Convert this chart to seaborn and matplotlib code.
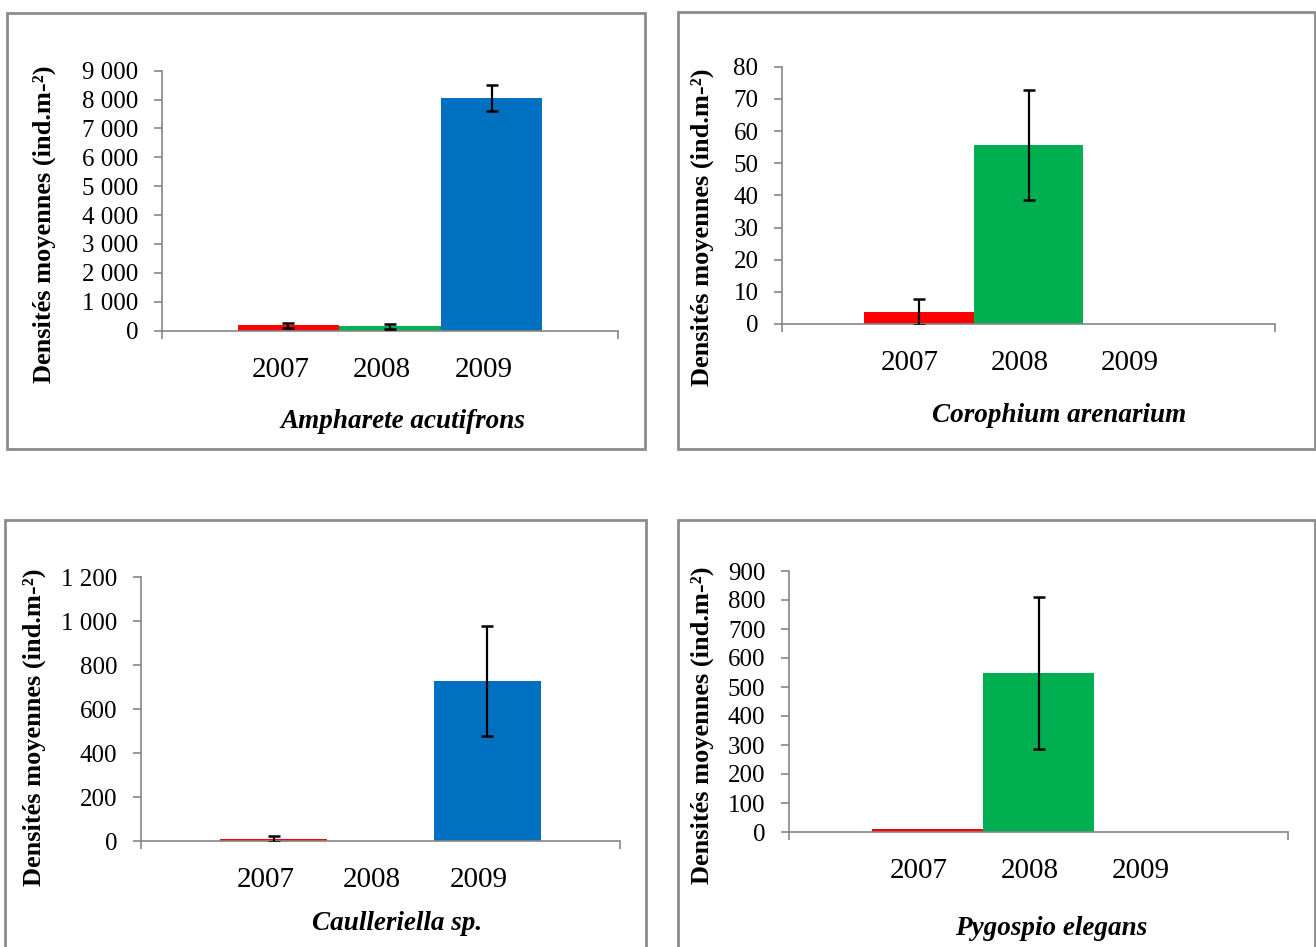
import numpy as np
import pandas as pd
import matplotlib
matplotlib.use("Agg")
import matplotlib.pyplot as plt
from matplotlib.patches import Rectangle
import seaborn as sns

# ---------------- data ----------------
years = ["2007", "2008", "2009"]
colors = ["#FF0000", "#00B050", "#0070C0"]

species = ["Ampharete acutifrons", "Corophium arenarium", "Caulleriella sp.", "Pygospio elegans"]

ampharete_mean = [175, 140, 8050]
ampharete_err = [80, 75, 460]

corophium_mean = [3.7, 55.7, 0]
corophium_err = [4.0, 17.0, 0]

caulleriella_mean = [11, 0, 729]
caulleriella_err = [14, 0, 250]

pygospio_mean = [10, 548, 0]
pygospio_err = [0, 262, 0]

ampharete_yticks = [0, 1000, 2000, 3000, 4000, 5000, 6000, 7000, 8000, 9000]
ampharete_yticklabels = ["0", "1 000", "2 000", "3 000", "4 000", "5 000", "6 000", "7 000", "8 000", "9 000"]
corophium_yticks = [0, 10, 20, 30, 40, 50, 60, 70, 80]
corophium_yticklabels = ["0", "10", "20", "30", "40", "50", "60", "70", "80"]
caulleriella_yticks = [0, 200, 400, 600, 800, 1000, 1200]
caulleriella_yticklabels = ["0", "200", "400", "600", "800", "1 000", "1 200"]
pygospio_yticks = [0, 100, 200, 300, 400, 500, 600, 700, 800, 900]
pygospio_yticklabels = ["0", "100", "200", "300", "400", "500", "600", "700", "800", "900"]

ylabel_text = "Densités moyennes (ind.m-²)"

# ---------------- layout ----------------
W, H = 1316, 947
sns.set_theme(style="white")
plt.rcParams["font.family"] = ["Liberation Serif", "DejaVu Serif"]

fig = plt.figure(figsize=(W / 100, H / 100), dpi=100)
fig.patch.set_facecolor("white")

GRAY = "#868686"

panels = [
    dict(name=species[0], mean=ampharete_mean, err=ampharete_err,
         yt=ampharete_yticks, ytl=ampharete_yticklabels,
         ax_px=(162, 618, 70.7, 330.5), box=(6.7, 645, 12.7, 449),
         title_px=(403, 421), ylab_px=(44, 224)),
    dict(name=species[1], mean=corophium_mean, err=corophium_err,
         yt=corophium_yticks, ytl=corophium_yticklabels,
         ax_px=(782, 1275, 66.7, 324), box=(678, 1315, 12.5, 449),
         title_px=(1059, 415), ylab_px=(702, 227)),
    dict(name=species[2], mean=caulleriella_mean, err=caulleriella_err,
         yt=caulleriella_yticks, ytl=caulleriella_yticklabels,
         ax_px=(141, 620, 577, 841), box=(5, 646, 520, 960),
         title_px=(397, 923), ylab_px=(34, 727)),
    dict(name=species[3], mean=pygospio_mean, err=pygospio_err,
         yt=pygospio_yticks, ytl=pygospio_yticklabels,
         ax_px=(789, 1288, 571, 832), box=(678, 1315, 520, 960),
         title_px=(1051, 928), ylab_px=(702, 725)),
]

GAP = 0.745

for p in panels:
    l, r, t, b = p["ax_px"]
    ax = fig.add_axes([l / W, 1 - b / H, (r - l) / W, (b - t) / H])
    ax.set_facecolor("white")

    df = pd.DataFrame({"year": years, "mean": p["mean"], "err": p["err"]})
    sns.barplot(data=df, x="year", y="mean", hue="year", palette=colors,
                order=years, hue_order=years, width=1.0, saturation=1,
                legend=False, errorbar=None, linewidth=0, ax=ax)

    for i, (m, e) in enumerate(zip(p["mean"], p["err"])):
        if e > 0:
            ax.errorbar(i, m, yerr=e, fmt="none", ecolor="black",
                        elinewidth=1.6, capsize=4.5, capthick=1.8, zorder=5)

    ax.set_xlim(-0.5 - GAP, 2.5 + GAP)
    ax.set_ylim(p["yt"][0], p["yt"][-1])

    ax.set_yticks(p["yt"])
    ax.set_yticklabels(p["ytl"], fontsize=18, color="black")
    ax.tick_params(axis="y", which="major", direction="out", length=6,
                   width=1.2, color=GRAY, pad=11, left=True)

    ax.set_xticks([i - 0.08 for i in range(len(years))])
    ax.set_xticklabels(years, fontsize=21, color="black")
    ax.tick_params(axis="x", which="major", length=0, pad=19, bottom=True)
    ax.set_xticks([-0.5 - GAP, 2.5 + GAP], minor=True)
    ax.tick_params(axis="x", which="minor", direction="out", length=6,
                   width=1.2, color=GRAY, bottom=True)

    for s in ["top", "right"]:
        ax.spines[s].set_visible(False)
    for s in ["left", "bottom"]:
        ax.spines[s].set_color(GRAY)
        ax.spines[s].set_linewidth(1.2)

    tx, ty = p["title_px"]
    ax.set_xlabel(p["name"], fontsize=19.5, fontweight="bold", fontstyle="italic",
                  color="black")
    ax.xaxis.set_label_coords((tx - l) / (r - l), -(ty - b) / (b - t))
    ax.xaxis.label.set_va("center")
    ax.xaxis.label.set_ha("center")

    yx, yy = p["ylab_px"]
    ax.set_ylabel(ylabel_text, fontsize=19, fontweight="bold", color="black")
    ax.yaxis.set_label_coords((yx - l) / (r - l), (b - yy) / (b - t))
    ax.yaxis.label.set_va("center")
    ax.yaxis.label.set_ha("center")

    x0, x1, y0, y1 = p["box"]
    fig.patches.append(Rectangle((x0 / W, 1 - y1 / H), (x1 - x0) / W, (y1 - y0) / H,
                                 transform=fig.transFigure, fill=False,
                                 edgecolor="#8c8c8c", linewidth=2.0, clip_on=False))

fig.savefig("out.png", dpi=100, facecolor="white")
